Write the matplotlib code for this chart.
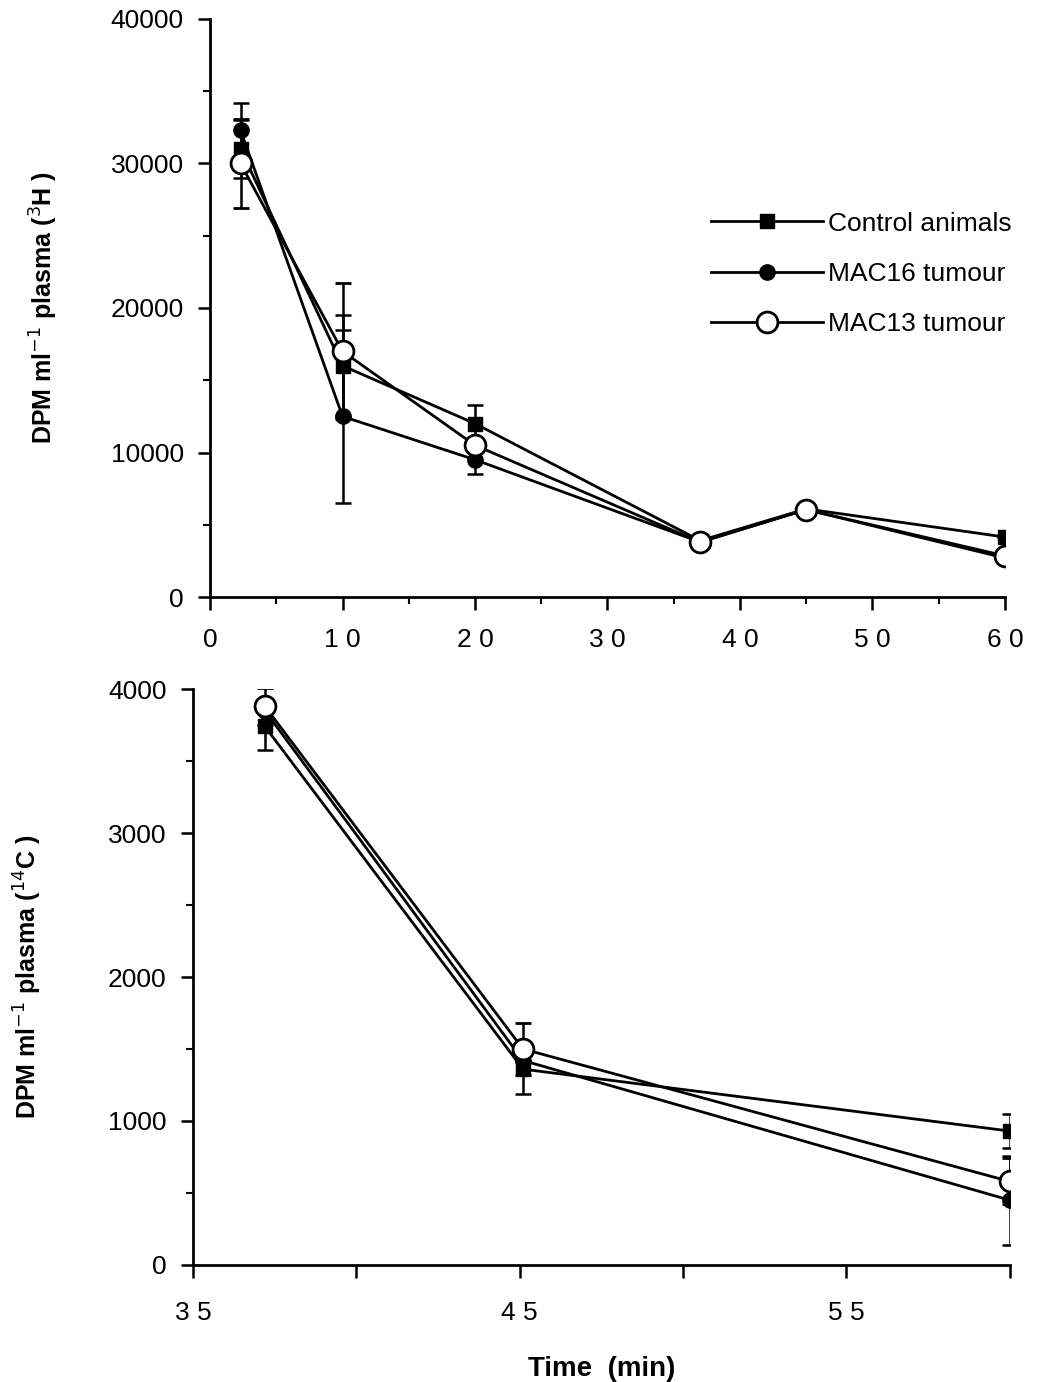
import matplotlib.pyplot as plt
from matplotlib.ticker import MultipleLocator

plt.rcParams['font.family'] = ['Liberation Sans', 'DejaVu Sans']

# --- top panel: 3H ---
t_top = [2.3, 10, 20, 37, 45, 60]
ctrl_top = [31000, 16000, 12000, 3900, 6100, 4150]
ctrl_top_err = [2000, 3500, 1300, 0, 0, 0]
m16_top = [32300, 12500, 9500, 3800, 6050, 2700]
m16_top_err = [1900, 6000, 1000, 0, 0, 0]
m13_top = [30000, 17000, 10500, 3800, 6050, 2850]
m13_top_err = [3100, 4700, 0, 0, 0, 0]

# --- bottom panel: 14C ---
t_bot = [37.2, 45.1, 60]
ctrl_bot = [3740, 1360, 930]
ctrl_bot_err = [160, 170, 120]
m16_bot = [3850, 1420, 450]
m16_bot_err = [0, 0, 310]
m13_bot = [3880, 1500, 580]
m13_bot_err = [130, 180, 160]

labels = ['Control animals', 'MAC16 tumour', 'MAC13 tumour']

fig = plt.figure(figsize=(10.64, 13.82), dpi=100)
ax1 = fig.add_axes([0.1974, 0.568, 0.7471, 0.4183])
ax2 = fig.add_axes([0.1814, 0.0847, 0.7676, 0.4167])

lw = 2.0
def draw(ax, t, c, ce, m16, m16e, m13, m13e):
    ax.errorbar(t, c, yerr=ce, color='black', lw=lw, marker='s', ms=10,
                mfc='black', mec='black', capsize=6, elinewidth=1.8, capthick=1.8,
                label=labels[0], zorder=3)
    ax.errorbar(t, m16, yerr=m16e, color='black', lw=lw, marker='o', ms=11,
                mfc='black', mec='black', capsize=6, elinewidth=1.8, capthick=1.8,
                label=labels[1], zorder=3)
    ax.errorbar(t, m13, yerr=m13e, color='black', lw=lw, marker='o', ms=15,
                mfc='white', mec='black', mew=2, capsize=6, elinewidth=1.8, capthick=1.8,
                label=labels[2], zorder=4)

draw(ax1, t_top, ctrl_top, ctrl_top_err, m16_top, m16_top_err, m13_top, m13_top_err)
draw(ax2, t_bot, ctrl_bot, ctrl_bot_err, m16_bot, m16_bot_err, m13_bot, m13_bot_err)

for ax in (ax1, ax2):
    ax.spines['top'].set_visible(False)
    ax.spines['right'].set_visible(False)
    ax.spines['left'].set_linewidth(2)
    ax.spines['bottom'].set_linewidth(2)
    ax.tick_params(axis='both', which='major', direction='out', length=9, width=1.8,
                   labelsize=19)
    ax.tick_params(axis='both', which='minor', direction='out', length=5, width=1.5)
    ax.tick_params(axis='y', which='major', pad=10)

ax1.set_xlim(0, 60)
ax1.set_ylim(0, 40000)
ax1.set_xticks([0, 10, 20, 30, 40, 50, 60])
ax1.set_xticklabels(['0', '1 0', '2 0', '3 0', '4 0', '5 0', '6 0'])
ax1.xaxis.set_minor_locator(MultipleLocator(5))
ax1.yaxis.set_major_locator(MultipleLocator(10000))
ax1.yaxis.set_minor_locator(MultipleLocator(5000))
ax1.tick_params(axis='x', which='major', pad=13)
ax1.set_ylabel(r'DPM ml$^{-1}$ plasma ($^{3}$H )', fontsize=18, fontweight='bold', labelpad=36)

ax2.set_xlim(35, 60)
ax2.set_ylim(0, 4000)
ax2.set_xticks([35, 40, 45, 50, 55, 60])
ax2.set_xticklabels(['3 5', '', '4 5', '', '5 5', ''])
ax2.yaxis.set_major_locator(MultipleLocator(1000))
ax2.yaxis.set_minor_locator(MultipleLocator(500))
ax2.tick_params(axis='x', which='major', pad=17)
ax2.set_ylabel(r'DPM ml$^{-1}$ plasma ($^{14}$C )', fontsize=18, fontweight='bold', labelpad=46)
ax2.set_xlabel('Time  (min)', fontsize=20, fontweight='bold', labelpad=22)

h, l = ax1.get_legend_handles_labels()
h = [x[0] for x in h]
fig.legend(h, l, loc='upper left', bbox_to_anchor=(0.6456, 0.864), frameon=False,
           fontsize=19, handlelength=4.25, handletextpad=0.2, labelspacing=1.0)

fig.savefig('out.png', dpi=100)
